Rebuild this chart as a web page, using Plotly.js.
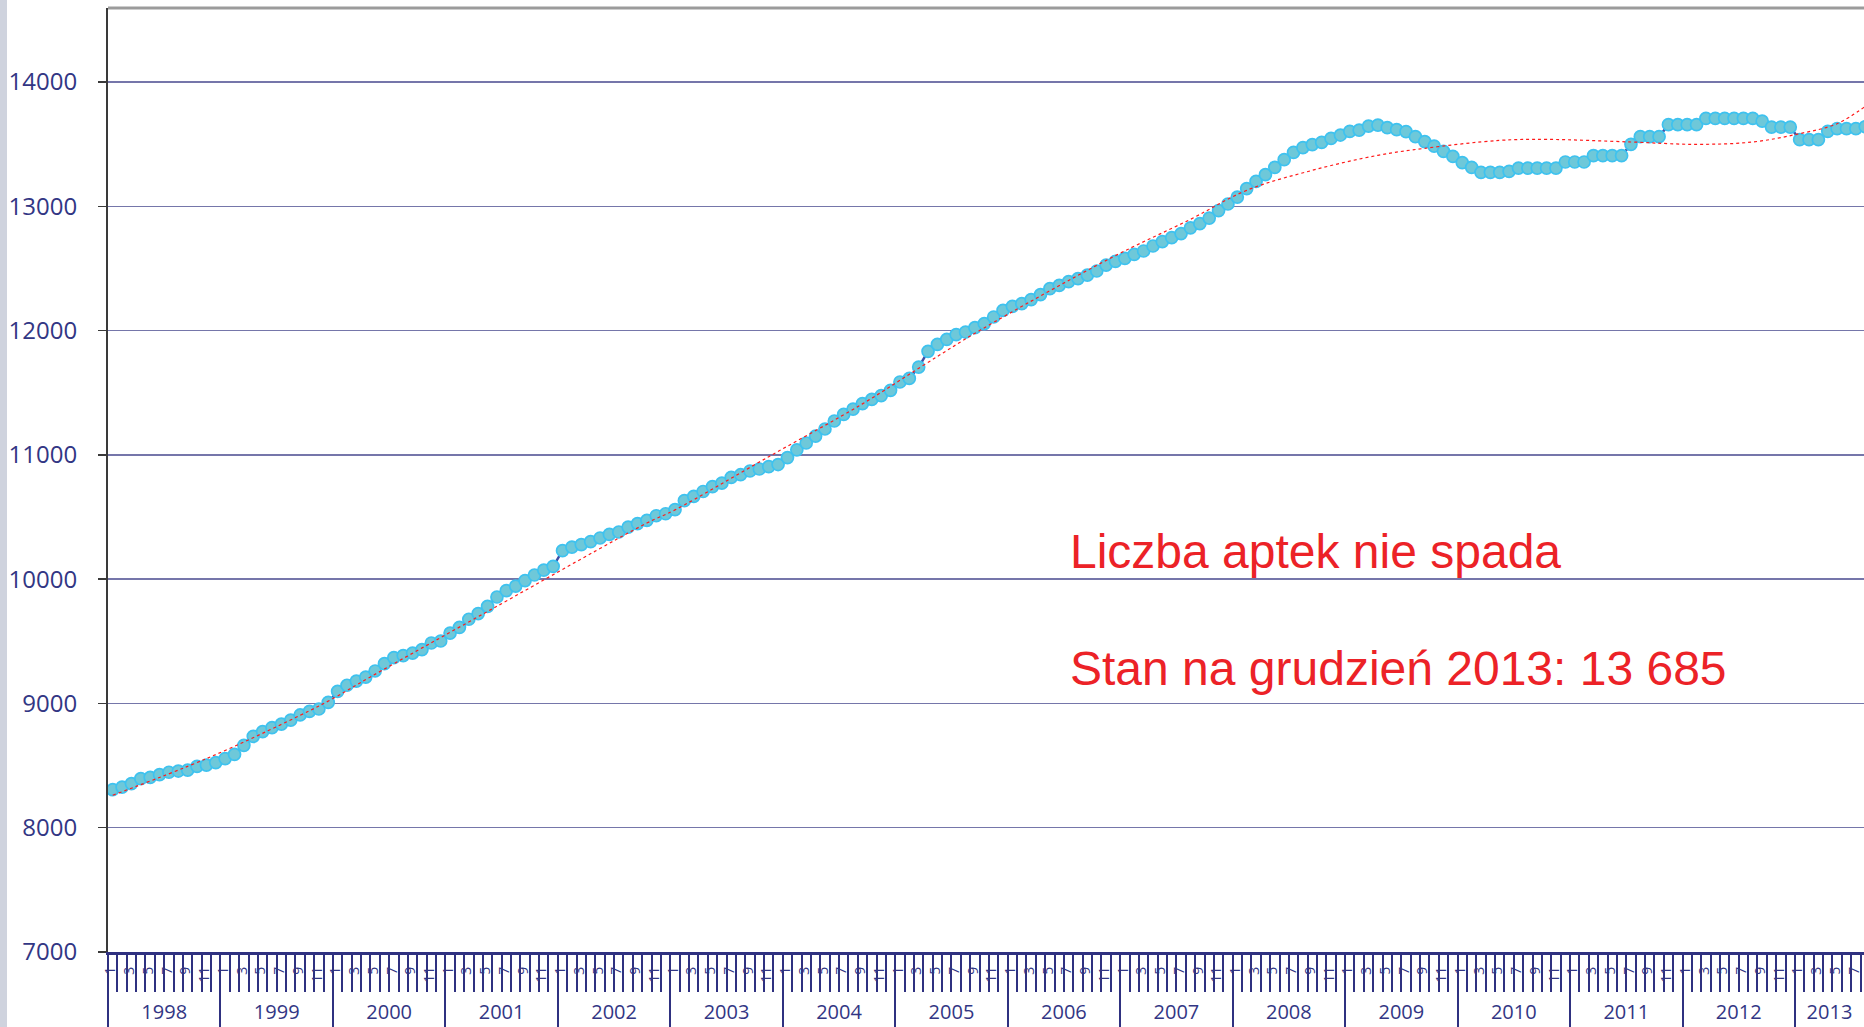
<!DOCTYPE html>
<html>
<head>
<meta charset="utf-8">
<script src="https://cdn.plot.ly/plotly-3.0.1.min.js"></script>
<style>
  html, body { margin: 0; padding: 0; background: #ffffff; overflow: hidden; }
  #strip { position: absolute; left: 0; top: 0; width: 7px; height: 1027px; background: #cfd3de; }
  #chart { position: absolute; left: 0; top: 0; width: 1864px; height: 1027px; }
</style>
</head>
<body>
<div id="strip"></div>
<div id="chart"></div>
<script>
// ---- data (monthly count of pharmacies, Jan 1998 onward) ----
const years = [1998, 1999, 2000, 2001, 2002, 2003, 2004, 2005, 2006, 2007, 2008, 2009, 2010, 2011, 2012, 2013];
const monthLabels = ['1', '3', '5', '7', '9', '11'];
const pharmacies = [
  8306, 8327, 8355, 8395, 8405, 8427, 8446, 8456, 8464, 8494, 8504, 8524,
  8556, 8590, 8663, 8735, 8773, 8805, 8834, 8866, 8907, 8936, 8955, 9009,
  9097, 9146, 9180, 9212, 9261, 9320, 9368, 9385, 9405, 9433, 9486, 9502,
  9566, 9612, 9677, 9722, 9781, 9856, 9907, 9944, 9988, 10033, 10073, 10103,
  10229, 10258, 10278, 10302, 10331, 10360, 10379, 10419, 10447, 10473, 10510, 10526,
  10559, 10631, 10666, 10705, 10744, 10772, 10819, 10840, 10870, 10886, 10905, 10922,
  10978, 11040, 11095, 11151, 11208, 11272, 11326, 11368, 11412, 11446, 11476, 11519,
  11586, 11615, 11706, 11833, 11889, 11929, 11967, 11988, 12023, 12055, 12109, 12162,
  12195, 12216, 12249, 12289, 12337, 12364, 12393, 12417, 12446, 12479, 12527, 12557,
  12581, 12613, 12640, 12680, 12715, 12747, 12780, 12826, 12860, 12905, 12965, 13018,
  13074, 13142, 13200, 13254, 13313, 13375, 13434, 13471, 13496, 13514, 13546, 13573,
  13603, 13613, 13645, 13653, 13632, 13616, 13600, 13560, 13520, 13484, 13442, 13401,
  13351, 13313, 13273, 13273, 13273, 13281, 13307, 13307, 13307, 13307, 13307, 13356,
  13356, 13356, 13407, 13407, 13407, 13407, 13498, 13560, 13560, 13560, 13656, 13656,
  13656, 13656, 13707, 13707, 13707, 13707, 13707, 13707, 13685, 13637, 13637, 13637,
  13536, 13536, 13536, 13603, 13624, 13624, 13624, 13640
];
// polynomial trend line, month index -> value
const trendMonth = [0, 10, 20, 23.5, 27.5, 40.6, 57, 60, 70, 80, 86.5, 92.5, 106.4, 115, 121, 128, 135, 140, 148, 153, 162, 169, 175, 180, 184, 187];
const trendValue = [8261, 8556, 8904, 9039, 9213, 9765, 10451, 10557, 10985, 11410, 11720, 12000, 12580, 12895, 13128, 13289, 13410, 13466, 13530, 13538, 13517, 13498, 13517, 13584, 13664, 13804];
const noteLines = ['Liczba aptek nie spada', 'Stan na grudzień 2013: 13 685'];
const yTicks = [7000, 8000, 9000, 10000, 11000, 12000, 13000, 14000];

// ---- derived positions ----
const monthIdx = pharmacies.map((_, i) => i);
const nMonths = years.length * 12;
const monthBounds = [];
for (let i = 0; i <= nMonths; i++) monthBounds.push(i - 0.5);
const labelPos = [], labelText = [];
for (let i = 0; i < nMonths; i++) {
  const m = i % 12;
  if (m % 2 === 0) { labelPos.push(i - 0.2); labelText.push(monthLabels[m / 2]); }
}
const W = 1864, H = 1027, ML = 108, MT = 8, MB = 75;
const pxPerMonth = 9.372;
const xRange = [-0.5, -0.5 + (W - ML) / pxPerMonth];
const yRange = [7000, 14595];
const yearBounds = years.map((y, k) => k * 12 - 0.5).concat([years.length * 12 - 0.5]);
// year label centred on the visible part of its year
const yearCenters = years.map((y, k) => (Math.max(k * 12 - 0.5, xRange[0]) + Math.min(k * 12 + 11.5, xRange[1])) / 2);
const navy = '#2f3180';
const txtCol = '#323684';

const baseX = {
  range: xRange, fixedrange: true, showgrid: false, zeroline: false,
  overlaying: 'x', anchor: 'y', side: 'bottom', ticklabeloverflow: 'allow'
};

const traces = [
  {
    x: monthIdx, y: pharmacies, type: 'scatter', mode: 'lines+markers',
    line: { color: '#3f4fa6', width: 2.5 },
    marker: { size: 12, color: '#6ec8d9', line: { color: '#3ec2ef', width: 1.7 } },
    hoverinfo: 'x+y', showlegend: false, cliponaxis: true
  },
  {
    x: trendMonth, y: trendValue, type: 'scatter', mode: 'lines',
    line: { color: '#ff1a1a', width: 1.2, dash: 'dot', shape: 'spline', smoothing: 1 },
    hoverinfo: 'skip', showlegend: false
  },
  { x: [], y: [], xaxis: 'x2', yaxis: 'y', showlegend: false, hoverinfo: 'skip' },
  { x: [], y: [], xaxis: 'x3', yaxis: 'y', showlegend: false, hoverinfo: 'skip' },
  { x: [], y: [], xaxis: 'x4', yaxis: 'y', showlegend: false, hoverinfo: 'skip' }
];

const layout = {
  width: W, height: H,
  margin: { l: ML, r: 0, t: MT, b: MB, pad: 0 },
  paper_bgcolor: 'rgba(0,0,0,0)', plot_bgcolor: 'rgba(0,0,0,0)',
  showlegend: false,
  xaxis: {
    range: xRange, fixedrange: true, showgrid: false, zeroline: false,
    showline: true, linecolor: navy, linewidth: 2.5,
    tickmode: 'array', tickvals: monthBounds, ticks: 'outside', ticklen: 37,
    tickwidth: 2, tickcolor: navy, showticklabels: false
  },
  xaxis2: Object.assign({}, baseX, {
    tickmode: 'array', tickvals: labelPos, ticktext: labelText, ticks: '',
    tickangle: -90, ticklabelstandoff: 11,
    tickfont: { family: 'Open Sans, sans-serif', size: 14, color: txtCol }
  }),
  xaxis3: Object.assign({}, baseX, {
    tickmode: 'array', tickvals: yearBounds, ticks: 'outside', ticklen: 80,
    tickwidth: 2, tickcolor: navy, showticklabels: false
  }),
  xaxis4: Object.assign({}, baseX, {
    tickmode: 'array', tickvals: yearCenters, ticktext: years.map(String), ticks: '',
    ticklabelstandoff: 46,
    tickfont: { family: 'Open Sans, sans-serif', size: 20, color: txtCol }
  }),
  yaxis: {
    range: yRange, fixedrange: true, zeroline: false,
    showline: true, linecolor: '#3a3a3a', linewidth: 2,
    tickmode: 'array', tickvals: yTicks, ticktext: yTicks.map(String),
    ticks: 'outside', ticklen: 8, tickwidth: 1.5, tickcolor: '#3a3a3a',
    showgrid: true, gridcolor: '#7576aa', gridwidth: 1.5,
    ticklabelstandoff: 16,
    tickfont: { family: 'Open Sans, sans-serif', size: 24, color: txtCol }
  },
  shapes: [
    { type: 'line', xref: 'paper', yref: 'paper', x0: 0, x1: 1, y0: 1, y1: 1,
      line: { color: '#9b9b9b', width: 3 } }
  ],
  annotations: noteLines.map((t, k) => ({
    text: t, xref: 'paper', yref: 'paper',
    x: (1068 - ML) / (W - ML), y: [0.4239, 0.3006][k],
    xanchor: 'left', yanchor: 'middle', showarrow: false,
    font: { family: 'Liberation Sans, Arial, sans-serif', size: 48, color: '#ec2227' }
  }))
};

Plotly.newPlot('chart', traces, layout, { staticPlot: true, displayModeBar: false });
</script>
</body>
</html>
